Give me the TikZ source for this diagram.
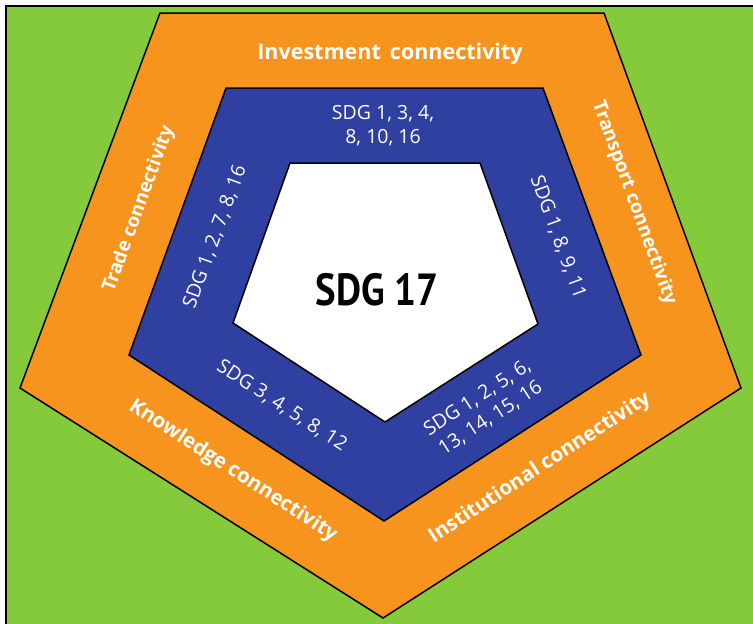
\documentclass[tikz,border=0pt]{standalone}
\usepackage{fontspec}
\setmainfont{Open Sans}
\newfontfamily\corefont{PT Sans}
\definecolor{fieldgreen}{RGB}{132,202,59}
\definecolor{ringorange}{RGB}{247,148,30}
\definecolor{ringblue}{RGB}{47,64,160}
\tikzset{every picture/.style={line width=1.5pt}}
\tikzset{
  ring/.style={draw=black, line join=miter},
  linktext/.style={text=white, font=\bfseries\fontsize{19}{21}\selectfont, inner sep=0.75pt},
  goaltext/.style={text=white, font=\fontsize{19.5}{24}\selectfont, inner sep=0.75pt, align=center}
}

\begin{document}
\begin{tikzpicture}[x=1pt,y=1pt,yscale=-1,xscale=1]
    \useasboundingbox (0,0) rectangle (753,624);

    %Shape: Background
    \fill [fieldgreen] (6,6) rectangle (753,624);
    \draw (6,624) -- (6,6) -- (753,6);

    %Shape: Pentagon [outer ring]
    \draw [ring, fill=ringorange] (160,13) -- (604,13) -- (741,388) -- (383,618) -- (20,388) -- cycle;
    %Shape: Pentagon [middle ring]
    \draw [ring, fill=ringblue] (226,88) -- (543,88) -- (641,355) -- (384,521) -- (129,355) -- cycle;
    %Shape: Pentagon [core]
    \draw [ring, fill=white] (290,163) -- (480,163) -- (538,324) -- (385,422) -- (233,323) -- cycle;

    % Text Node
    \node (core) at (377,290) {\scalebox{0.86}[1]{\corefont\bfseries\fontsize{45}{50}\selectfont SDG 17}};

    % Text Node
    \node [linktext, font=\bfseries\fontsize{21.5}{23}\selectfont] (invest) at (390,54) {Investment\, connectivity};
    % Text Node
    \node [linktext, rotate=70] (trade) at (139,209) {Trade connectivity};
    % Text Node
    \node [linktext, rotate=-70] (transport) at (634,203) {Transport connectivity};
    % Text Node
    \node [linktext, rotate=-33, font=\bfseries\fontsize{20.5}{22}\selectfont] (knowledge) at (233,471) {Knowledge connectivity};
    % Text Node
    \node [linktext, rotate=33, font=\bfseries\fontsize{20.5}{22}\selectfont] (institution) at (540,468) {Institutional connectivity};

    % Text Node
    \node [goaltext] (goalTop) at (383,126) {SDG 1, 3, 4,\\ 8, 10, 16};
    % Text Node
    \node [goaltext, rotate=70] (goalLeft) at (215,237) {SDG 1, 2, 7, 8, 16};
    % Text Node
    \node [goaltext, rotate=-70] (goalRight) at (558,237) {SDG 1, 8, 9, 11};
    % Text Node
    \node [goaltext, rotate=-33] (goalLowLeft) at (282,406) {SDG 3, 4, 5, 8, 12};
    % Text Node
    \node [goaltext, rotate=33] (goalLowRight) at (484,408) {SDG 1, 2, 5, 6,\\ 13, 14, 15, 16};
\end{tikzpicture}
\end{document}
